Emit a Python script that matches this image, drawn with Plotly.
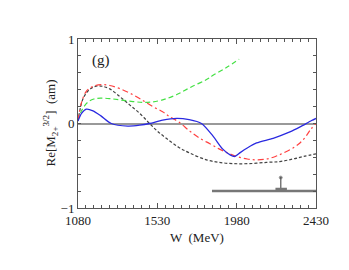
import plotly.graph_objects as go

# ---- data ----
W_blue = [1080, 1100, 1127, 1165, 1210, 1269, 1363, 1430, 1486, 1560, 1640, 1710, 1780,
          1846, 1900, 1945, 1970, 2000, 2040, 2093, 2187, 2282, 2340, 2405, 2430]
y_blue = [0.03, 0.12, 0.17, 0.15, 0.09, 0.0, -0.03, -0.02, 0.0, 0.04, 0.06, 0.045, 0.0,
          -0.15, -0.30, -0.375, -0.39, -0.345, -0.29, -0.23, -0.175, -0.10, -0.04, 0.035, 0.06]

W_red = [1080, 1100, 1130, 1172, 1220, 1260, 1320, 1392, 1450, 1505, 1560, 1600, 1650, 1714, 1760, 1828,
         1880, 1931, 1980, 2040, 2093, 2150, 2200, 2244, 2300, 2339, 2370, 2400, 2430]
y_red = [0.03, 0.25, 0.39, 0.445, 0.46, 0.45, 0.41, 0.34, 0.27, 0.20, 0.14, 0.08, 0.02, -0.09, -0.16, -0.24,
         -0.30, -0.35, -0.39, -0.42, -0.43, -0.42, -0.39, -0.35, -0.29, -0.23, -0.16, -0.07, 0.0]

W_black = [1080, 1110, 1150, 1190, 1220, 1260, 1316, 1373, 1430, 1486, 1530, 1581, 1650, 1714, 1809, 1880,
           1960, 2050, 2150, 2225, 2300, 2360, 2430]
y_black = [0.03, 0.30, 0.41, 0.445, 0.44, 0.41, 0.32, 0.22, 0.12, 0.0, -0.09, -0.175, -0.28, -0.35, -0.43, -0.46,
           -0.475, -0.475, -0.46, -0.45, -0.42, -0.39, -0.36]

W_green = [1080, 1100, 1134, 1170, 1210, 1260, 1316, 1392, 1448, 1500, 1560, 1638, 1720, 1809, 1846, 1920, 1994]
y_green = [0.03, 0.15, 0.25, 0.29, 0.30, 0.295, 0.28, 0.26, 0.25, 0.255, 0.28, 0.34, 0.43, 0.52, 0.57, 0.66, 0.76]

band_W = [1840, 2430]
band_y = [-0.8, -0.8]
pole_W = [2230, 2230]
pole_y = [-0.775, -0.64]
foot_W = [2200, 2265]
foot_y = [-0.775, -0.775]

x_tickvals = [1080, 1530, 1980, 2430]
y_tickvals = [-1, 0, 1]
y_ticktext = ["\u22121", "0", "1"]

FONT = "Liberation Serif"

fig = go.Figure()
fig.add_trace(go.Scatter(x=W_black, y=y_black, mode="lines", line=dict(color="#444444", width=1.2, dash="3px,2px", shape="spline")))
fig.add_trace(go.Scatter(x=W_green, y=y_green, mode="lines", line=dict(color="#44e044", width=1.2, dash="5px,3px", shape="spline")))
fig.add_trace(go.Scatter(x=W_red, y=y_red, mode="lines", line=dict(color="#ff4040", width=1.2, dash="6px,3px,2px,3px", shape="spline")))
fig.add_trace(go.Scatter(x=W_blue, y=y_blue, mode="lines", line=dict(color="#2a2ae0", width=1.3, shape="spline", smoothing=0.8)))
fig.add_trace(go.Scatter(x=band_W, y=band_y, mode="lines", line=dict(color="#777777", width=2.5)))
fig.add_trace(go.Scatter(x=pole_W, y=pole_y, mode="lines+markers", line=dict(color="#777777", width=1.5),
                         marker=dict(size=[0, 3], color="#333333")))
fig.add_trace(go.Scatter(x=foot_W, y=foot_y, mode="lines", line=dict(color="#777777", width=2.5)))

fig.update_layout(
    width=341, height=262,
    margin=dict(l=70, r=33, t=31, b=62),
    paper_bgcolor="white", plot_bgcolor="white",
    showlegend=False,
    font=dict(family=FONT, size=13, color="#222222"),
    xaxis=dict(range=[1080, 2430], tickvals=x_tickvals, ticks="inside", ticklen=5, tickcolor="#555",
               showline=True, linecolor="#555", linewidth=1, mirror="ticks", showgrid=False, zeroline=False,
               minor=dict(dtick=45, tick0=1080, ticks="inside", ticklen=3, tickcolor="#555", showgrid=False),
               tickfont=dict(family=FONT, size=13)),
    yaxis=dict(range=[-1, 1], tickvals=y_tickvals, ticktext=y_ticktext, ticks="inside", ticklen=3, tickcolor="#555",
               showline=True, linecolor="#555", linewidth=1, mirror="ticks", showgrid=False,
               zeroline=True, zerolinecolor="#999999", zerolinewidth=2,
               minor=dict(dtick=0.2, tick0=0, ticks="inside", ticklen=3, tickcolor="#555", showgrid=False),
               tickfont=dict(family=FONT, size=13)),
)

fig.add_annotation(text="(g)", x=1212, y=0.75, xref="x", yref="y", showarrow=False,
                   font=dict(family=FONT, size=15, color="#222"))
fig.add_annotation(text="W  (MeV)", x=0.5, y=0, yshift=-20, xref="paper", yref="paper", yanchor="top",
                   showarrow=False, font=dict(family=FONT, size=13, color="#222"))
fig.add_annotation(text="Re[M<sub>2+</sub><sup>3/2</sup>]  (am)", xref="paper", yref="paper",
                   x=0, y=0.5, xshift=-28, textangle=-90, showarrow=False, xanchor="center", yanchor="middle",
                   font=dict(family=FONT, size=13, color="#222"))

fig.write_html("out.html")
